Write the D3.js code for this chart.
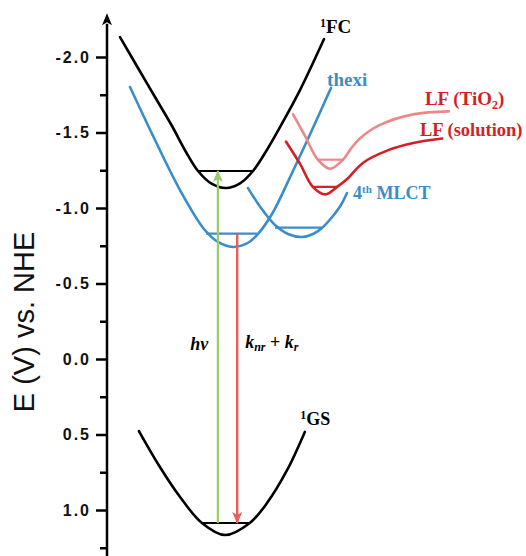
<!DOCTYPE html>
<html>
<head>
<meta charset="utf-8">
<script src="https://cdn.jsdelivr.net/npm/d3@7"></script>
<style>
  body { margin: 0; background: #fff; }
  svg { display: block; }
</style>
</head>
<body>
<script>
const WIDTH = 526;
const HEIGHT = 556;

// y axis ticks (V vs. NHE, more negative at the top)
var majorTicks = [-2.0, -1.5, -1.0, -0.5, 0.0, 0.5, 1.0];
var minorTicks = [-1.75, -1.25, -0.75, -0.25, 0.25, 0.75, 1.25];

// potential curves: [q, E] (q = arbitrary nuclear coordinate)
var fcCurve = [[0.31,-2.132],[0.738,-1.927],[1.143,-1.735],[1.548,-1.543],[1.881,-1.371],[2.167,-1.245],[2.50,-1.159],[2.833,-1.132],[3.167,-1.163],[3.476,-1.245],[3.762,-1.364],[4.119,-1.536],[4.595,-1.781],[5.167,-2.119]];
var thexiCurve = [[0.548,-1.801],[1.143,-1.450],[1.738,-1.119],[2.310,-0.861],[2.643,-0.775],[3.0,-0.742],[3.31,-0.762],[3.571,-0.821],[3.929,-0.960],[4.405,-1.232],[4.881,-1.517],[5.333,-1.795]];
var mlctCurve = [[3.357,-1.132],[3.667,-1.0],[4.0,-0.887],[4.31,-0.828],[4.643,-0.808],[4.905,-0.828],[5.119,-0.868],[5.381,-0.947],[5.571,-1.020],[5.714,-1.099]];
var lfTiO2Curve = [[4.43,-1.62],[4.71,-1.48],[5.02,-1.32],[5.31,-1.26],[5.62,-1.32],[5.80,-1.39],[6.02,-1.46],[6.50,-1.55],[7.29,-1.62],[8.14,-1.64]];
var lfSolCurve = [[4.26,-1.44],[4.60,-1.29],[4.90,-1.14],[5.20,-1.09],[5.48,-1.14],[5.71,-1.19],[6.10,-1.30],[6.67,-1.38],[7.29,-1.43],[7.98,-1.46]];
var gsCurve = [[0.76,0.477],[1.26,0.715],[1.74,0.914],[2.26,1.086],[2.81,1.166],[3.40,1.086],[3.81,0.954],[4.29,0.735],[4.71,0.483]];

// lowest vibrational levels: [q start, q end, E]
var fcLevel = [2.17, 3.48, -1.245];
var thexiLevel = [2.36, 3.57, -0.83];
var mlctLevel = [4.00, 5.12, -0.87];
var lfTiO2Level = [5.02, 5.62, -1.32];
var lfSolLevel = [4.90, 5.48, -1.14];
var gsLevel = [2.26, 3.40, 1.086];

// transitions: [q, E from, E to]
var absorption = [2.64, 1.086, -1.245];
var emission = [3.10, -0.83, 1.086];

var BLACK = '#000';
var BLUE = '#3b8dc9';
var RED = '#d41f26';
var LIGHT_RED = '#ec8888';
var GREEN = '#9bc96b';
var ARROW_RED = '#e4605f';

var svg = d3.select('body').append('svg')
    .attr('width', WIDTH)
    .attr('height', HEIGHT);

var xScale = d3.scaleLinear().domain([0, 10]).range([107, 527]);
var yScale = d3.scaleLinear().domain([-2.0, 1.0]).range([57, 510]);

// axis
var axisX = xScale(0);
svg.append('line')
    .attr('x1', axisX).attr('x2', axisX)
    .attr('y1', yScale(-2.22)).attr('y2', HEIGHT)
    .attr('stroke', BLACK).attr('stroke-width', 2.5);
var tipY = yScale(-2.29);
svg.append('path')
    .attr('d', 'M' + axisX + ',' + tipY + ' L' + (axisX + 5) + ',' + (tipY + 12) +
        ' L' + axisX + ',' + (tipY + 9) + ' L' + (axisX - 5) + ',' + (tipY + 12) + 'Z')
    .attr('fill', BLACK);

var yAxis = d3.axisLeft(yScale)
    .tickValues(majorTicks)
    .tickSize(11)
    .tickPadding(5)
    .tickFormat(d3.format('.1f'));
var gAxis = svg.append('g')
    .attr('transform', 'translate(' + axisX + ',0)')
    .call(yAxis);
gAxis.select('.domain').remove();
gAxis.selectAll('line').attr('stroke', BLACK).attr('stroke-width', 2.5);
gAxis.selectAll('text')
    .attr('font-family', 'Liberation Sans, Arial, sans-serif')
    .attr('font-weight', 'bold')
    .attr('font-size', 16)
    .attr('letter-spacing', 2)
    .attr('fill', '#111')
    .text(function (d) { return d3.format('.1f')(d).replace('−', '-'); });

var yMinor = d3.axisLeft(yScale).tickValues(minorTicks).tickSize(7).tickFormat('');
var gMinor = svg.append('g')
    .attr('transform', 'translate(' + axisX + ',0)')
    .call(yMinor);
gMinor.select('.domain').remove();
gMinor.selectAll('line').attr('stroke', BLACK).attr('stroke-width', 2.5);

svg.append('text')
    .attr('transform', 'translate(34,' + 322 + ') rotate(-90)')
    .attr('text-anchor', 'middle')
    .attr('font-family', 'Liberation Sans, Arial, sans-serif')
    .attr('font-size', 29)
    .attr('fill', '#111')
    .text('E (V) vs. NHE');

// curves
var line = d3.line()
    .x(function (d) { return xScale(d[0]); })
    .y(function (d) { return yScale(d[1]); })
    .curve(d3.curveCatmullRom.alpha(0.5));

var curves = [
    {pts: fcCurve, color: BLACK},
    {pts: thexiCurve, color: BLUE},
    {pts: mlctCurve, color: BLUE},
    {pts: lfTiO2Curve, color: LIGHT_RED},
    {pts: lfSolCurve, color: RED},
    {pts: gsCurve, color: BLACK}
];
svg.append('g').selectAll('path')
    .data(curves)
    .enter().append('path')
    .attr('d', function (d) { return line(d.pts); })
    .attr('fill', 'none')
    .attr('stroke', function (d) { return d.color; })
    .attr('stroke-width', 2.6)
    .attr('stroke-linecap', 'round');

var levels = [
    {l: fcLevel, color: BLACK},
    {l: thexiLevel, color: BLUE},
    {l: mlctLevel, color: BLUE},
    {l: lfTiO2Level, color: LIGHT_RED},
    {l: lfSolLevel, color: RED},
    {l: gsLevel, color: BLACK}
];
svg.append('g').selectAll('line')
    .data(levels)
    .enter().append('line')
    .attr('x1', function (d) { return xScale(d.l[0]); })
    .attr('x2', function (d) { return xScale(d.l[1]); })
    .attr('y1', function (d) { return yScale(d.l[2]); })
    .attr('y2', function (d) { return yScale(d.l[2]); })
    .attr('stroke', function (d) { return d.color; })
    .attr('stroke-width', 2.2);

// arrows
var defs = svg.append('defs');
function addMarker(id, color) {
    defs.append('marker')
        .attr('id', id)
        .attr('viewBox', '0 0 12 10')
        .attr('refX', 11)
        .attr('refY', 5)
        .attr('markerWidth', 12)
        .attr('markerHeight', 10)
        .attr('markerUnits', 'userSpaceOnUse')
        .attr('orient', 'auto')
        .append('path')
        .attr('d', 'M0,0 L12,5 L0,10 L3,5 Z')
        .attr('fill', color);
}
addMarker('arrowGreen', GREEN);
addMarker('arrowRed', ARROW_RED);

svg.append('line')
    .attr('x1', xScale(absorption[0])).attr('x2', xScale(absorption[0]))
    .attr('y1', yScale(absorption[1])).attr('y2', yScale(absorption[2]))
    .attr('stroke', GREEN).attr('stroke-width', 2.2)
    .attr('marker-end', 'url(#arrowGreen)');
svg.append('line')
    .attr('x1', xScale(emission[0])).attr('x2', xScale(emission[0]))
    .attr('y1', yScale(emission[1])).attr('y2', yScale(emission[2]))
    .attr('stroke', ARROW_RED).attr('stroke-width', 2.4)
    .attr('marker-end', 'url(#arrowRed)');

// labels
var SERIF = 'Liberation Serif, Times New Roman, serif';
function label(q, e, color, size) {
    return svg.append('text')
        .attr('x', xScale(q))
        .attr('y', yScale(e))
        .attr('font-family', SERIF)
        .attr('font-weight', 'bold')
        .attr('font-size', size)
        .attr('fill', color);
}

var fc = label(5.07, -2.16, BLACK, 19);
fc.append('tspan').attr('font-size', 12).attr('dy', -6).text('1');
fc.append('tspan').attr('dy', 6).text('FC');

label(5.24, -1.81, BLUE, 19).text('thexi');

var tio2 = label(7.57, -1.68, RED, 19);
tio2.append('tspan').text('LF (TiO');
tio2.append('tspan').attr('font-size', 12).attr('dy', 4).text('2');
tio2.append('tspan').attr('dy', -4).text(')');

label(7.45, -1.48, RED, 18.5).text('LF (solution)');

var mlct = label(5.86, -1.06, BLUE, 18);
mlct.append('tspan').text('4');
mlct.append('tspan').attr('font-size', 11).attr('dy', -6).text('th');
mlct.append('tspan').attr('dy', 6).text(' MLCT');

var hv = label(1.98, -0.06, BLACK, 18).attr('font-style', 'italic');
hv.text('hv');

var k = label(3.29, -0.07, BLACK, 18).attr('font-style', 'italic');
k.append('tspan').text('k');
k.append('tspan').attr('font-size', 12).attr('dy', 3).text('nr');
k.append('tspan').attr('dy', -3).attr('font-style', 'normal').text(' + ');
k.append('tspan').text('k');
k.append('tspan').attr('font-size', 12).attr('dy', 3).text('r');

var gs = label(4.6, 0.44, BLACK, 18);
gs.append('tspan').attr('font-size', 12).attr('dy', -6).text('1');
gs.append('tspan').attr('dy', 6).text('GS');
</script>
</body>
</html>
